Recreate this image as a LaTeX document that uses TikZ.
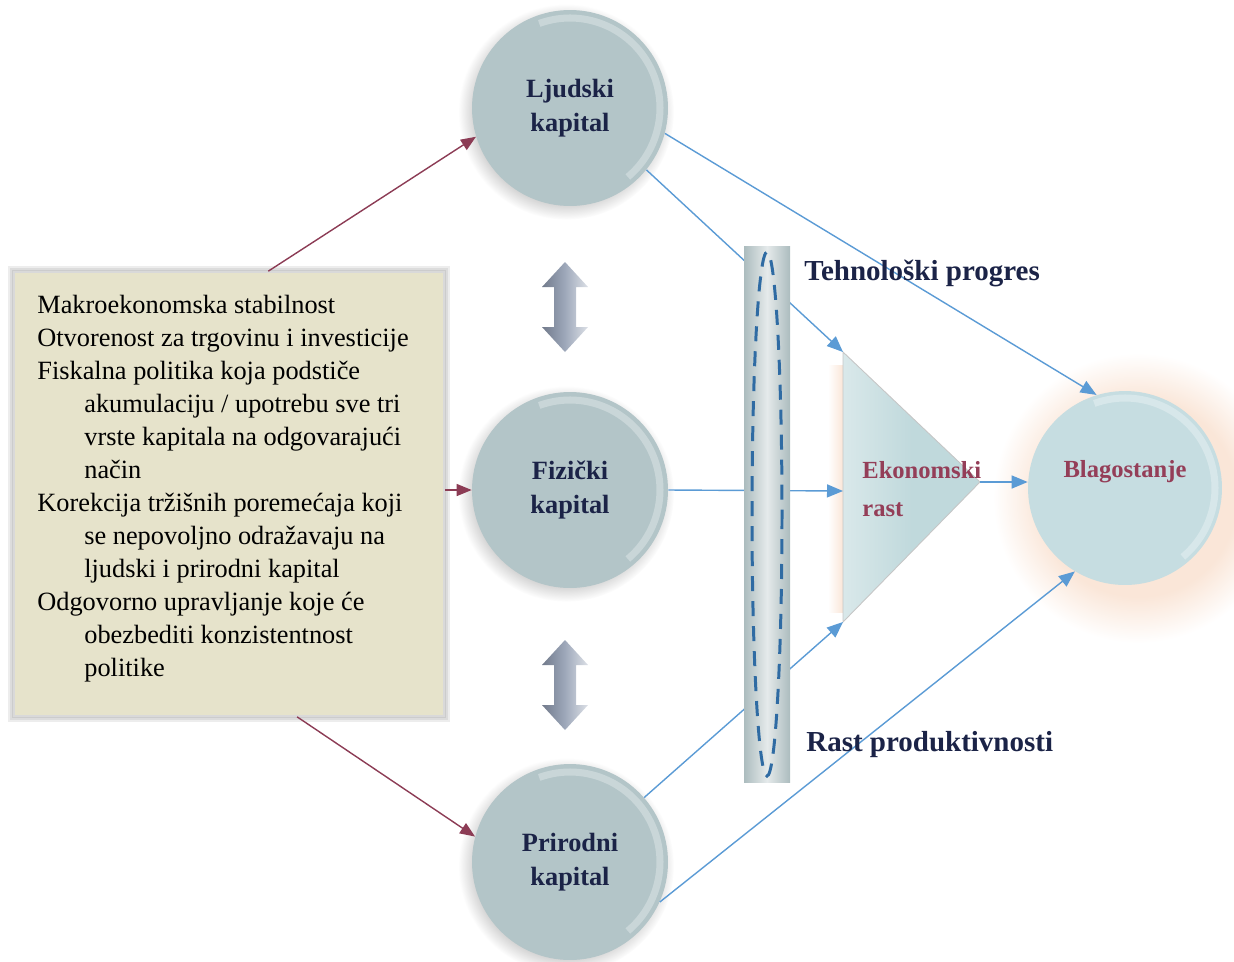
\documentclass[tikz,border=0pt]{standalone}
\usepackage{fontspec}
\setmainfont{Liberation Serif}
\usetikzlibrary{arrows.meta,shadows}

\definecolor{capfill}{HTML}{B3C5C8}
\definecolor{capnavy}{HTML}{1B2347}
\definecolor{rastred}{HTML}{943E58}
\definecolor{linkblue}{HTML}{5B9BD5}
\definecolor{policyred}{HTML}{8C3C55}
\definecolor{boxfill}{HTML}{E6E3CB}
\definecolor{welfill}{HTML}{C6DDE1}
\definecolor{trifill}{HTML}{C0D9DC}
\definecolor{glowc}{HTML}{FAE6D8}
\definecolor{bandc}{HTML}{97ABAE}
\definecolor{ellblue}{HTML}{2F6BA3}
\definecolor{arrgray}{HTML}{8D99AE}

\pgfdeclareradialshading{halo}{\pgfpoint{0bp}{0bp}}{color(0bp)=(glowc); color(17bp)=(glowc); color(25bp)=(white); color(50bp)=(white)}

\newcommand\indentline{\hspace*{0.94cm}}

\begin{document}
\begin{tikzpicture}[x=0.02cm,y=-0.02cm,
  bubble/.style={circle, minimum size=3.92cm, inner sep=0pt, align=center,
    path picture={\draw[white, opacity=.3, line width=4pt] ([shift={(110:1.8cm)}]path picture bounding box.center) arc[start angle=110, end angle=-50, radius=1.8cm];}},
  capital/.style={bubble, fill=capfill, text=capnavy, font=\bfseries\fontsize{15}{19.3}\selectfont,
    circular drop shadow={shadow xshift=-2pt, shadow yshift=-2pt, opacity=.35}},
  link/.style={linkblue, line width=0.8pt, -{Triangle[length=0.32cm, width=0.26cm]}},
  policyarrow/.style={policyred, line width=0.8pt, -{Triangle[length=0.3cm, width=0.24cm]}},
  heading/.style={font=\bfseries\fontsize{16.5}{19}\selectfont, text=capnavy, anchor=west, inner sep=0pt},
  rast/.style={font=\bfseries\fontsize{14}{21.6}\selectfont, text=rastred, inner sep=0pt}]
\useasboundingbox (0,0) rectangle (1234,961);

% glow behind growth and welfare
\shade[shading=halo] (1138,498) circle [radius=145];
\shade[left color=white, right color=glowc] (828,365) rectangle (843,612);

% policy box
\foreach \d in {2,4,6}
  \fill[black, opacity=.07] ({14-\d},{272-\d}) rectangle ({444+\d},{716+\d});
\node[fill=boxfill, draw=black!15, line width=1pt, minimum width=8.6cm, minimum height=8.88cm, inner sep=0pt] (policies) at (229,494) {};
\node[anchor=north west, align=left, inner sep=0pt, font=\fontsize{15}{18.8}\selectfont] (measures) at (37,295)
  {Makroekonomska stabilnost\\
   Otvorenost za trgovinu i investicije\\
   Fiskalna politika koja podstiče\\
   \indentline akumulaciju / upotrebu sve tri\\
   \indentline vrste kapitala na odgovarajući\\
   \indentline način\\
   Korekcija tržišnih poremećaja koji\\
   \indentline se nepovoljno odražavaju na\\
   \indentline ljudski i prirodni kapital\\
   Odgovorno upravljanje koje će\\
   \indentline obezbediti konzistentnost\\
   \indentline politike};

% capitals
\node[capital] (ljudski) at (570,108) {Ljudski\\kapital};
\node[capital] (fizicki) at (570,490) {Fizički\\kapital};
\node[capital] (prirodni) at (570,862) {Prirodni\\kapital};

\foreach \y in {262,640}
  \shade[left color=arrgray!80!black, right color=arrgray!30!white, middle color=arrgray!85!white]
    (565,\y) -- ++(23,25) -- ++(-12,0) -- ++(0,40) -- ++(12,0) -- ++(-23,25)
    -- ++(-23,-25) -- ++(12,0) -- ++(0,-40) -- ++(-12,0) -- cycle;

% growth triangle
\coordinate (tritop) at (843,352); \coordinate (tribot) at (843,622); \coordinate (triapex) at (980,482);
\coordinate (trimid) at (843,491);
\shade[left color=trifill!60!white, right color=trifill, middle color=trifill, draw=gray!45, line width=0.5pt] (tritop) -- (triapex) -- (tribot) -- cycle;
\node[rast, anchor=west, align=left] (growth) at (862,489) {Ekonomski\\rast};

% welfare
\node[bubble, fill=welfill, minimum size=3.88cm] (blag) at (1125,488) {};
\node[rast] (blagtext) at (1125,472) {Blagostanje};

% connectors
\draw[policyarrow] (policies.80) -- (ljudski.197);
\draw[policyarrow] (policies.east |- fizicki.west) -- (fizicki.west);
\draw[policyarrow] (policies.287) -- (prirodni.165);
\draw[link] (ljudski.-15) -- (blag.107);
\draw[link] (ljudski.-39) -- (tritop);
\draw[link] (fizicki.east) -- (trimid);
\draw[link] (prirodni.41) -- (tribot);
\draw[link] (prirodni.-24) -- (blag.239);
\draw[link] (triapex) -- (triapex -| blag.west);

% band over the links
\shade[left color=bandc!80!white, right color=bandc!80!white, middle color=bandc!25!white] (744,246) rectangle (790,782);
\draw[ellblue, line width=1.7pt, dash pattern=on 0.3cm off 0.2cm] (767,514) ellipse [x radius=15, y radius=262];

\node[heading] (tech) at (804,273) {Tehnološki progres};
\node[heading] (prod) at (806,745) {Rast produktivnosti};
\end{tikzpicture}
\end{document}
